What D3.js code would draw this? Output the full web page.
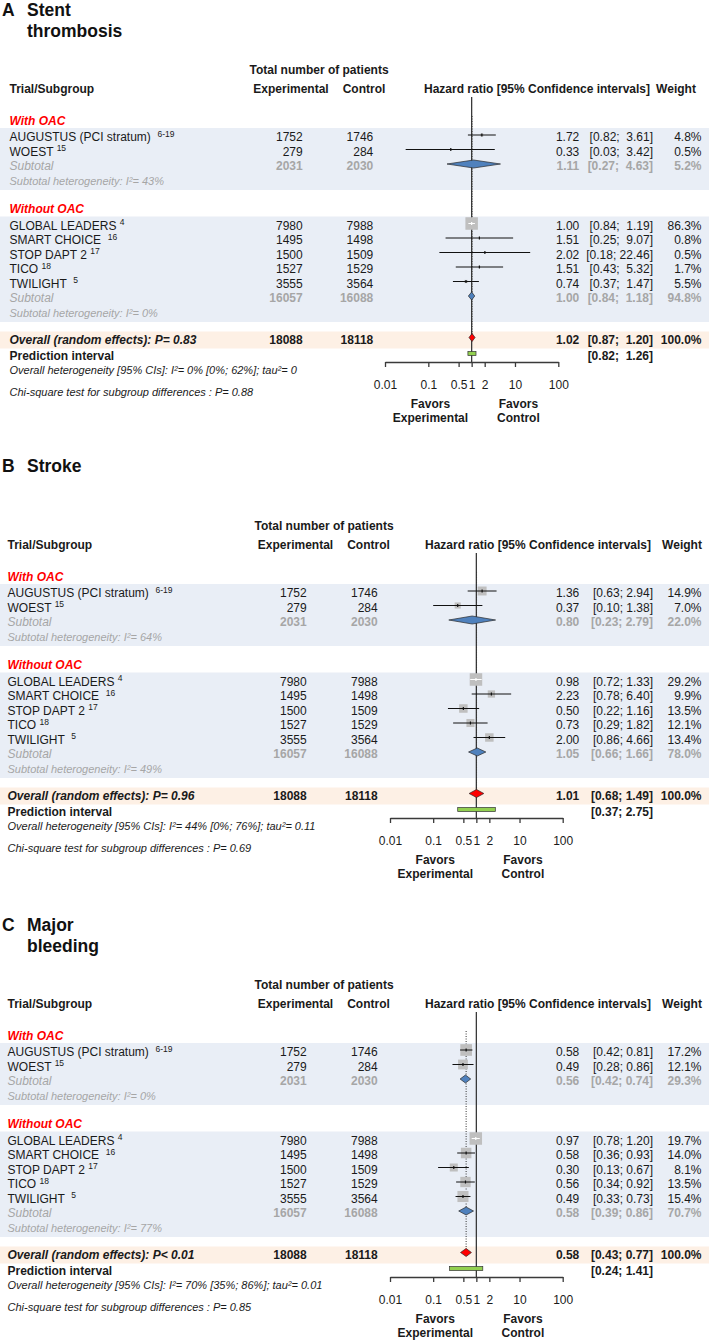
<!DOCTYPE html>
<html><head><meta charset="utf-8">
<script src="https://cdn.jsdelivr.net/npm/d3@7"></script>
<style>
body{margin:0;background:#fff}
text{font-family:'Liberation Sans',Arial,Helvetica,sans-serif;white-space:pre}
</style>
</head><body><script>
// ---------------- DATA ----------------
const panelLetters = ["A", "B", "C"];
const panelTitles = [["Stent", "thrombosis"], ["Stroke"], ["Major", "bleeding"]];
const groupNames = ["With OAC", "Without OAC"];
const trialNames = ["AUGUSTUS (PCI stratum)  ", "WOEST ", "GLOBAL LEADERS ", "SMART CHOICE  ", "STOP DAPT 2 ", "TICO ", "TWILIGHT  "];
const trialRefs = ["6-19", "15", "4", "16", "17", "18", "5"];
const trialGroup = [0, 0, 1, 1, 1, 1, 1];
const expN = [1752, 279, 7980, 1495, 1500, 1527, 3555];
const ctlN = [1746, 284, 7988, 1498, 1509, 1529, 3564];
const subExpN = [2031, 16057];
const subCtlN = [2030, 16088];
const totalExpN = 18088;
const totalCtlN = 18118;
const axisTicks = [0.01, 0.1, 0.5, 1, 2, 10, 100];
const axisTickLabels = ["0.01", "0.1", "0.5", "1", "2", "10", "100"];

// A: Stent thrombosis
const stentHR = [1.72, 0.33, 1.00, 1.51, 2.02, 1.51, 0.74];
const stentLo = [0.82, 0.03, 0.84, 0.25, 0.18, 0.43, 0.37];
const stentHi = [3.61, 3.42, 1.19, 9.07, 22.46, 5.32, 1.47];
const stentW = [4.8, 0.5, 86.3, 0.8, 0.5, 1.7, 5.5];
const stentSubHR = [1.11, 1.00];
const stentSubLo = [0.27, 0.84];
const stentSubHi = [4.63, 1.18];
const stentSubW = [5.2, 94.8];
const stentSubI2 = ["43%", "0%"];
const stentOverall = [1.02, 0.87, 1.20];
const stentPred = [0.82, 1.26];
const stentP = "P= 0.83";
const stentHet = "I²= 0% [0%; 62%]; tau²= 0";
const stentChiP = "P= 0.88";

// B: Stroke
const strokeHR = [1.36, 0.37, 0.98, 2.23, 0.50, 0.73, 2.00];
const strokeLo = [0.63, 0.10, 0.72, 0.78, 0.22, 0.29, 0.86];
const strokeHi = [2.94, 1.38, 1.33, 6.40, 1.16, 1.82, 4.66];
const strokeW = [14.9, 7.0, 29.2, 9.9, 13.5, 12.1, 13.4];
const strokeSubHR = [0.80, 1.05];
const strokeSubLo = [0.23, 0.66];
const strokeSubHi = [2.79, 1.66];
const strokeSubW = [22.0, 78.0];
const strokeSubI2 = ["64%", "49%"];
const strokeOverall = [1.01, 0.68, 1.49];
const strokePred = [0.37, 2.75];
const strokeP = "P= 0.96";
const strokeHet = "I²= 44% [0%; 76%]; tau²= 0.11";
const strokeChiP = "P= 0.69";

// C: Major bleeding
const bleedHR = [0.58, 0.49, 0.97, 0.58, 0.30, 0.56, 0.49];
const bleedLo = [0.42, 0.28, 0.78, 0.36, 0.13, 0.34, 0.33];
const bleedHi = [0.81, 0.86, 1.20, 0.93, 0.67, 0.92, 0.73];
const bleedW = [17.2, 12.1, 19.7, 14.0, 8.1, 13.5, 15.4];
const bleedSubHR = [0.56, 0.58];
const bleedSubLo = [0.42, 0.39];
const bleedSubHi = [0.74, 0.86];
const bleedSubW = [29.3, 70.7];
const bleedSubI2 = ["0%", "77%"];
const bleedOverall = [0.58, 0.43, 0.77];
const bleedPred = [0.24, 1.41];
const bleedP = "P< 0.01";
const bleedHet = "I²= 70% [35%; 86%]; tau²= 0.01";
const bleedChiP = "P= 0.85";

// table built from the arrays above
const outcomes = [
  {hr: stentHR, lo: stentLo, hi: stentHi, w: stentW, subHR: stentSubHR, subLo: stentSubLo, subHi: stentSubHi, subW: stentSubW, subI2: stentSubI2, overall: stentOverall, pred: stentPred, p: stentP, het: stentHet, chi: stentChiP},
  {hr: strokeHR, lo: strokeLo, hi: strokeHi, w: strokeW, subHR: strokeSubHR, subLo: strokeSubLo, subHi: strokeSubHi, subW: strokeSubW, subI2: strokeSubI2, overall: strokeOverall, pred: strokePred, p: strokeP, het: strokeHet, chi: strokeChiP},
  {hr: bleedHR, lo: bleedLo, hi: bleedHi, w: bleedW, subHR: bleedSubHR, subLo: bleedSubLo, subHi: bleedSubHi, subW: bleedSubW, subI2: bleedSubI2, overall: bleedOverall, pred: bleedPred, p: bleedP, het: bleedHet, chi: bleedChiP}
];

// ---------------- LAYOUT ----------------
const BLACK = "#1a1a1a", GRAY = "#a6a6a6", RED = "#ff0000";
const BAND = "#e9eef6", PEACH = "#fdf0e5";
const geo = [
  {oy: 0,   labelX: 9.5, expR: 302.7, ctlR: 373.3, totCx: 319, expCx: 291,   ctlCx: 364,   hrCx: 537, wCx: 676, ax: [385, 558.3]},
  {oy: 456, labelX: 7.5, expR: 306.7, ctlR: 377.7, totCx: 324, expCx: 295.5, ctlCx: 368.5, hrCx: 538, wCx: 682, ax: [390, 562.7]},
  {oy: 915, labelX: 7.5, expR: 306.7, ctlR: 377.7, totCx: 324, expCx: 295.5, ctlCx: 368.5, hrCx: 538, wCx: 682, ax: [390, 562.7]}
];
const estR = 579.3, ciR = 653, wR = 701.5;
const groupStart = [141, 229.5], pitch = 14.5, markOff = 6;

const f2 = d3.format(".2f"), f1 = d3.format(".1f");

const svg = d3.select("body").append("svg")
  .attr("width", 709).attr("height", 1344).style("display", "block");

function txt(g, x, y, s, o = {}) {
  return g.append("text").attr("x", x).attr("y", y).text(s)
    .attr("font-size", o.size || 12)
    .attr("font-weight", o.bold ? "bold" : null)
    .attr("font-style", o.italic ? "italic" : null)
    .attr("text-anchor", o.anchor || "start")
    .attr("fill", o.color || BLACK);
}

outcomes.forEach((o, pi) => {
  const G = geo[pi];
  const g = svg.append("g").attr("transform", `translate(0,${G.oy})`);
  const x = d3.scaleLog().domain([0.01, 100]).range(G.ax);

  // padding for CI strings
  const allHi = o.hi.concat(o.subHi, [o.overall[2], o.pred[1]]).map(f2);
  const maxLen = d3.max(allHi, s => s.length);
  const ciStr = (lo, hi) => { const h = f2(hi); return "[" + f2(lo) + "; " + " ".repeat(maxLen - h.length) + h + "]"; };

  // row positions
  const trialY = [], subY = [], hetY = [];
  [0, 1].forEach(gi => {
    const idx = d3.range(trialGroup.length).filter(i => trialGroup[i] === gi);
    idx.forEach((ti, k) => trialY[ti] = groupStart[gi] + k * pitch);
    subY[gi] = groupStart[gi] + idx.length * pitch;
    hetY[gi] = subY[gi] + 15;
  });
  const overallY = hetY[1] + 26.5, predY = overallY + 16, ohetY = predY + 14.5, chiY = ohetY + 21.5;
  const axisY = 362;

  // bands
  [0, 1].forEach(gi => {
    g.append("rect").attr("x", 0).attr("width", 709)
      .attr("y", groupStart[gi] - 13).attr("height", hetY[gi] + 5 - (groupStart[gi] - 13))
      .attr("fill", BAND);
  });
  g.append("rect").attr("x", 0).attr("width", 709).attr("y", overallY - 12).attr("height", 17).attr("fill", PEACH);

  // title
  txt(g, 2, 16, panelLetters[pi], {size: 17.5, bold: true, color: "#111"});
  panelTitles[pi].forEach((t, k) => txt(g, 27, 16 + k * 21, t, {size: 17.5, bold: true, color: "#111"}));

  // headers
  txt(g, G.totCx, 74, "Total number of patients", {bold: true, anchor: "middle"});
  txt(g, G.labelX, 93, "Trial/Subgroup", {bold: true});
  txt(g, G.expCx, 93, "Experimental", {bold: true, anchor: "middle"});
  txt(g, G.ctlCx, 93, "Control", {bold: true, anchor: "middle"});
  txt(g, G.hrCx, 93, "Hazard ratio [95% Confidence intervals]", {bold: true, anchor: "middle"});
  txt(g, G.wCx, 93, "Weight", {bold: true, anchor: "middle"});

  // group labels & subtotals
  [0, 1].forEach(gi => {
    txt(g, G.labelX, groupStart[gi] - 16.5, groupNames[gi], {bold: true, italic: true, color: RED});
    txt(g, G.labelX, subY[gi], "Subtotal", {italic: true, color: GRAY});
    txt(g, G.expR, subY[gi], subExpN[gi], {bold: true, color: GRAY, anchor: "end"});
    txt(g, G.ctlR, subY[gi], subCtlN[gi], {bold: true, color: GRAY, anchor: "end"});
    txt(g, estR, subY[gi], f2(o.subHR[gi]), {bold: true, color: GRAY, anchor: "end"});
    txt(g, ciR, subY[gi], ciStr(o.subLo[gi], o.subHi[gi]), {bold: true, color: GRAY, anchor: "end"});
    txt(g, wR, subY[gi], f1(o.subW[gi]) + "%", {bold: true, color: GRAY, anchor: "end"});
    txt(g, G.labelX, hetY[gi], "Subtotal heterogeneity: I²= " + o.subI2[gi], {size: 11, italic: true, color: GRAY});
  });

  // trials text
  trialNames.forEach((nm, i) => {
    const t = txt(g, G.labelX, trialY[i], nm);
    t.append("tspan").attr("font-size", 8.5).attr("dy", -4.5).text(trialRefs[i]);
    txt(g, G.expR, trialY[i], expN[i], {anchor: "end"});
    txt(g, G.ctlR, trialY[i], ctlN[i], {anchor: "end"});
    txt(g, estR, trialY[i], f2(o.hr[i]), {anchor: "end"});
    txt(g, ciR, trialY[i], ciStr(o.lo[i], o.hi[i]), {anchor: "end"});
    txt(g, wR, trialY[i], f1(o.w[i]) + "%", {anchor: "end"});
  });

  // overall rows
  txt(g, G.labelX, overallY, "Overall (random effects): " + o.p, {bold: true, italic: true});
  txt(g, G.expR, overallY, totalExpN, {bold: true, anchor: "end"});
  txt(g, G.ctlR, overallY, totalCtlN, {bold: true, anchor: "end"});
  txt(g, estR, overallY, f2(o.overall[0]), {bold: true, anchor: "end"});
  txt(g, ciR, overallY, ciStr(o.overall[1], o.overall[2]), {bold: true, anchor: "end"});
  txt(g, wR, overallY, "100.0%", {bold: true, anchor: "end"});
  txt(g, G.labelX, predY, "Prediction interval", {bold: true});
  txt(g, ciR, predY, ciStr(o.pred[0], o.pred[1]), {bold: true, anchor: "end"});
  txt(g, G.labelX, ohetY, "Overall heterogeneity [95% CIs]: " + o.het, {size: 11, italic: true});
  txt(g, G.labelX, chiY, "Chi-square test for subgroup differences : " + o.chi, {size: 11, italic: true});

  // reference line at 1
  g.append("line").attr("x1", x(1)).attr("x2", x(1)).attr("y1", 97).attr("y2", axisY)
    .attr("stroke", "#3a3a3a").attr("stroke-width", 1.3);
  // overall effect dotted line
  g.append("line").attr("x1", x(o.overall[0])).attr("x2", x(o.overall[0]))
    .attr("y1", 116).attr("y2", overallY - markOff)
    .attr("stroke", "#333").attr("stroke-width", 1).attr("stroke-dasharray", "1,1.5");

  // trial squares + CIs
  const maxW = d3.max(o.w);
  trialNames.forEach((nm, i) => {
    const cy = trialY[i] - markOff;
    const s = 12.5 * Math.sqrt(o.w[i] / maxW);
    const cx = x(o.hr[i]);
    g.append("rect").attr("x", cx - s / 2).attr("y", cy - s / 2).attr("width", s).attr("height", s).attr("fill", "#bfbfbf");
    const inside = (x(o.hi[i]) - x(o.lo[i])) <= s;
    const col = inside ? "#fff" : "#111";
    g.append("line").attr("x1", x(o.lo[i])).attr("x2", x(o.hi[i])).attr("y1", cy).attr("y2", cy)
      .attr("stroke", col).attr("stroke-width", 1);
    g.append("line").attr("x1", cx).attr("x2", cx).attr("y1", cy - 1.5).attr("y2", cy + 1.5)
      .attr("stroke", col).attr("stroke-width", 1.2);
  });

  // diamonds
  const diamond = (hr, lo, hi, cy, fill) => g.append("path")
    .attr("d", `M${x(lo)},${cy}L${x(hr)},${cy - 4}L${x(hi)},${cy}L${x(hr)},${cy + 4}Z`)
    .attr("fill", fill).attr("stroke", "#2a2a2a").attr("stroke-width", 0.7);
  [0, 1].forEach(gi => diamond(o.subHR[gi], o.subLo[gi], o.subHi[gi], subY[gi] - markOff, "#4f81bd"));
  diamond(o.overall[0], o.overall[1], o.overall[2], overallY - markOff, "#ff0000");

  // prediction interval
  g.append("rect").attr("x", x(o.pred[0])).attr("width", x(o.pred[1]) - x(o.pred[0]))
    .attr("y", predY - markOff - 2).attr("height", 4)
    .attr("fill", "#92d050").attr("stroke", "#333").attr("stroke-width", 0.7);

  // axis
  const axis = d3.axisBottom(x).tickValues(axisTicks)
    .tickFormat((d, k) => axisTickLabels[k]).tickSize(5).tickSizeOuter(0).tickPadding(13.5);
  const ag = g.append("g").attr("transform", `translate(0,${axisY})`).call(axis);
  ag.select(".domain").attr("stroke", "#3a3a3a").attr("stroke-width", 1.3);
  ag.selectAll(".tick line").attr("stroke", "#3a3a3a").attr("stroke-width", 1.3);
  ag.selectAll(".tick text").attr("font-size", 12).attr("fill", BLACK)
    .attr("font-family", "'Liberation Sans',Arial,sans-serif");

  // favors labels
  txt(g, x(0.112), 408, "Favors", {bold: true, anchor: "middle"});
  txt(g, x(0.112), 422, "Experimental", {bold: true, anchor: "middle"});
  txt(g, x(12), 408, "Favors", {bold: true, anchor: "middle"});
  txt(g, x(12), 422, "Control", {bold: true, anchor: "middle"});
});
</script></body></html>
